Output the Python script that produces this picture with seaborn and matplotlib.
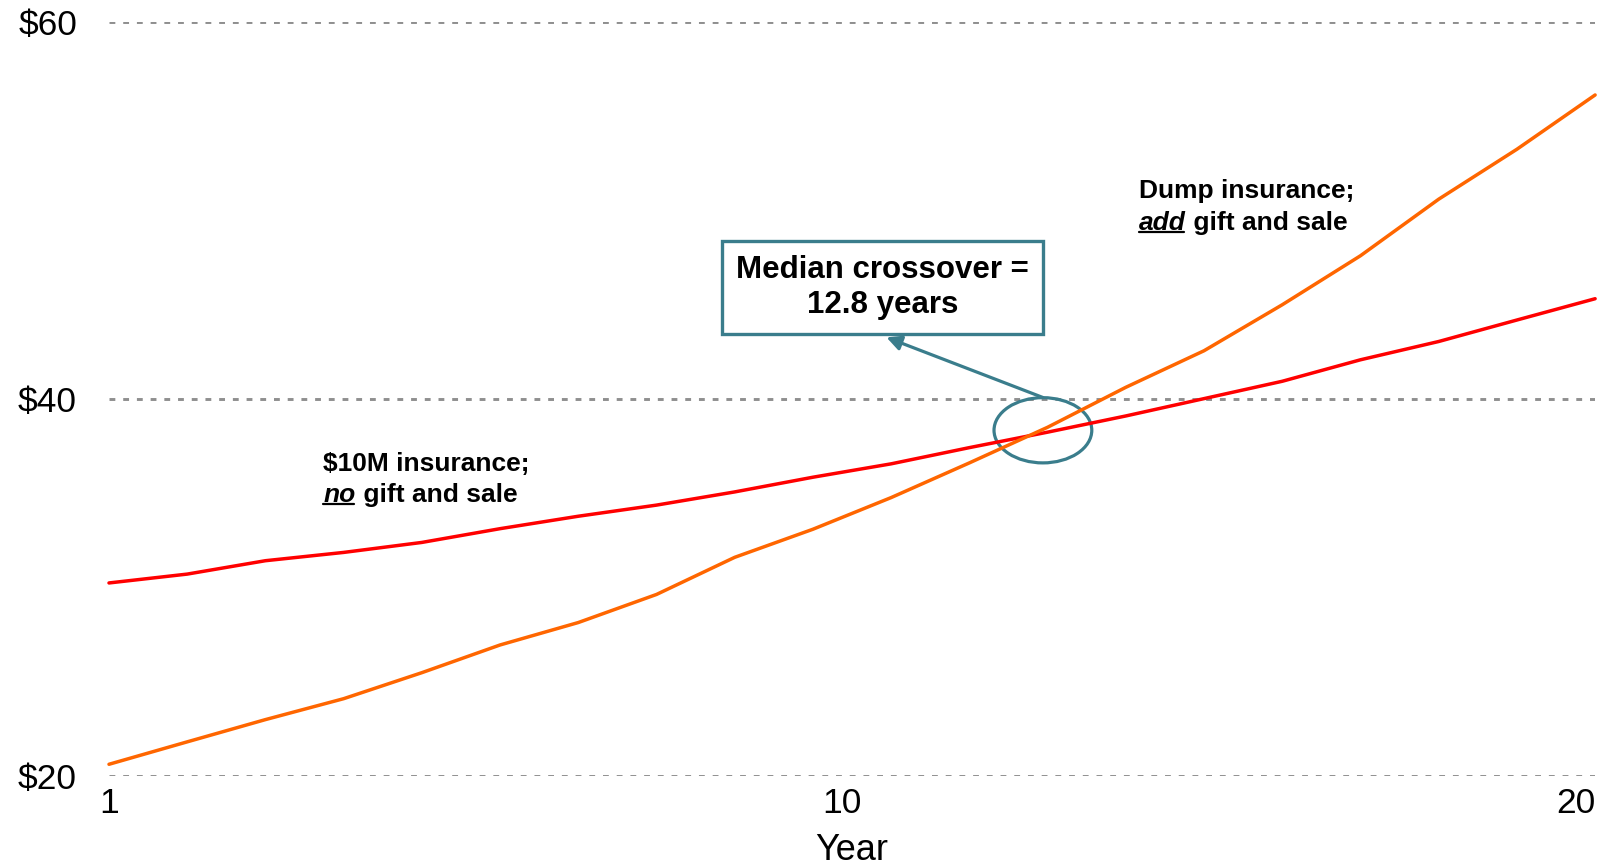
import numpy as np
import pandas as pd
import matplotlib.pyplot as plt
import seaborn as sns
from matplotlib.patches import Ellipse
from matplotlib.lines import Line2D

# values (in $ millions)
years = list(range(1, 21))
keep_insurance = [30.24, 30.71, 31.42, 31.86, 32.39, 33.12, 33.78, 34.37, 35.07, 35.85,
                  36.56, 37.42, 38.24, 39.10, 40.02, 40.94, 42.08, 43.05, 44.19, 45.32]
dump_insurance = [20.62, 21.81, 22.99, 24.10, 25.48, 26.95, 28.14, 29.63, 31.60, 33.09,
                  34.77, 36.61, 38.50, 40.62, 42.56, 45.00, 47.60, 50.60, 53.25, 56.13]
series_names = ['$10M insurance; no gift and sale', 'Dump insurance; add gift and sale']
y_ticks = [20, 40, 60]
y_labels = [r'\$20', r'\$40', r'\$60']
x_labels = ['1', '10', '20']
crossover = 12.8

df = pd.DataFrame({
    'year': years * 2,
    'value': keep_insurance + dump_insurance,
    'series': [series_names[0]] * len(years) + [series_names[1]] * len(years),
})

teal = '#3A7D8C'
sns.set_theme(style='white')
plt.rcParams['font.family'] = ['Liberation Sans', 'DejaVu Sans']
plt.rcParams.update({'text.color': 'black', 'axes.labelcolor': 'black',
                     'xtick.color': 'black', 'ytick.color': 'black'})

fig = plt.figure(figsize=(15.98, 8.67), dpi=100)
ax = fig.add_axes([0.0682, 0.105, 0.930, 0.8696])

sns.lineplot(data=df, x='year', y='value', hue='series',
             palette=['#FF0000', '#FF6600'], linewidth=2.5, legend=False, ax=ax)
for line in ax.lines:
    line.set_clip_on(False)

ax.set_xlim(1, 20)
ax.set_ylim(20, 60)
ax.set_yticks(y_ticks)
ax.set_yticklabels(y_labels)
# the "10" label sits in the middle of the axis in the original
ax.set_xticks([1, 10.37, 20])
ax.set_xticklabels(x_labels)
ax.get_xticklabels()[-1].set_ha('right')
ax.tick_params(axis='y', labelsize=25.5, pad=23, length=0)
ax.tick_params(axis='x', labelsize=25.5, pad=8, length=0)
ax.set_xlabel('Year', fontsize=26, labelpad=9)
ax.set_ylabel('')
ax.yaxis.grid(True, color='#8F8F8F', linestyle=(0, (2, 2.7)), linewidth=2.1)
ax.xaxis.grid(False)
sns.despine(ax=ax, left=True, bottom=True)

# series labels with bold-italic underlined word
def series_label(x, y, first, word, rest):
    ax.text(x, y, first, fontsize=19, fontweight='bold', va='baseline')
    t = ax.text(x, y - 1.68, word, fontsize=19, fontweight='bold', style='italic', va='baseline')
    ax.annotate(rest, xy=(1, 0), xycoords=t, va='bottom', ha='left',
                fontsize=19, fontweight='bold')
    return t

t_no = series_label(3.74, 36.2, r'\$10M insurance;', 'no', ' gift and sale')
t_add = series_label(14.17, 50.65, 'Dump insurance;', 'add', ' gift and sale')

# crossover callout
ax.text(10.89, 45.92, 'Median crossover =\n{} years'.format(crossover), fontsize=22.5,
        fontweight='bold', ha='center', va='center', linespacing=1.22,
        bbox=dict(boxstyle='square,pad=0.45', facecolor='white', edgecolor=teal, linewidth=2.4))
ax.add_patch(Ellipse((12.94, 38.34), 1.25, 3.46, fill=False, edgecolor=teal, linewidth=2.3))
ax.annotate('', xy=(10.94, 43.27), xytext=(12.94, 40.08),
            arrowprops=dict(arrowstyle='-|>', color=teal, lw=2.3, mutation_scale=22,
                            shrinkA=0, shrinkB=0))

# underline the emphasised words
fig.canvas.draw()
inv = fig.transFigure.inverted()
for t in (t_no, t_add):
    bb = t.get_window_extent()
    (x0, y0) = inv.transform((bb.x0, bb.y0 + 3))
    (x1, _) = inv.transform((bb.x1 - 2, bb.y0 + 3))
    fig.add_artist(Line2D([x0, x1], [y0, y0], color='black', linewidth=1.6))

fig.savefig('out.png', dpi=100)
